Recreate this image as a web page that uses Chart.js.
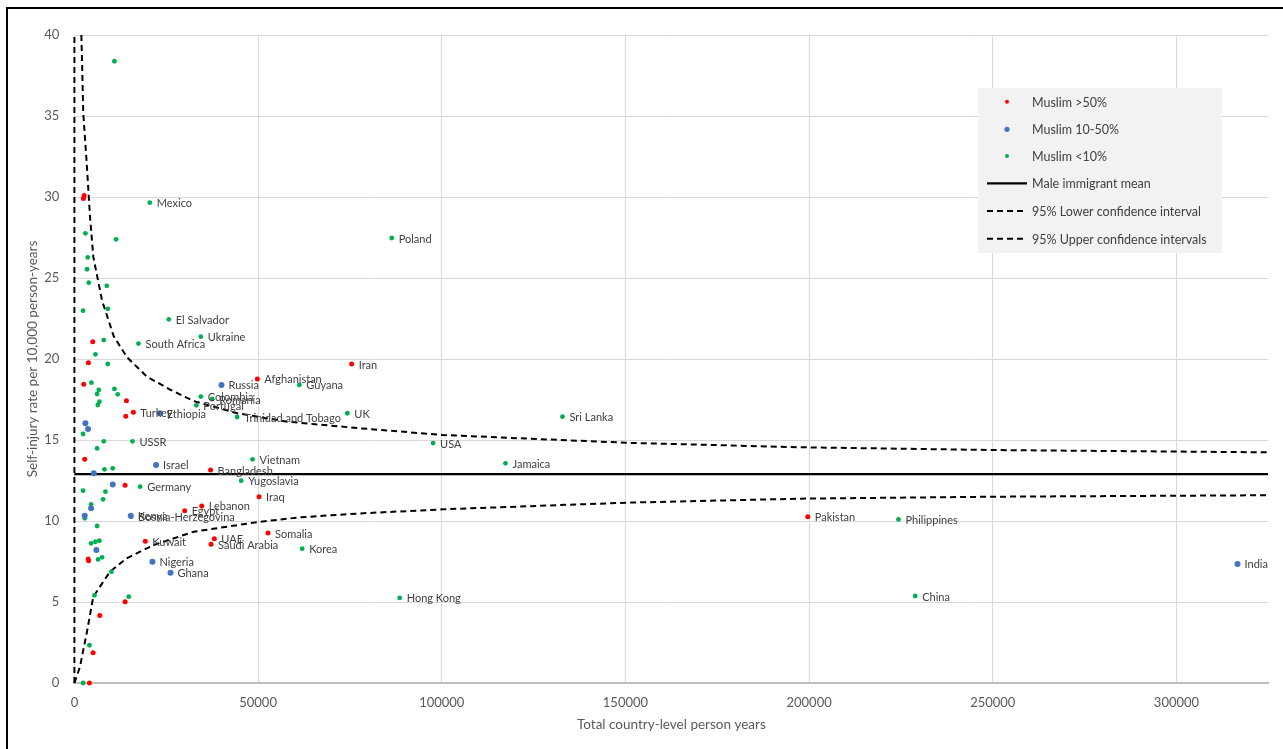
<!DOCTYPE html>
<html>
<head>
<meta charset="utf-8">
<script src="https://cdn.jsdelivr.net/npm/chart.js@4/dist/chart.umd.min.js"></script>
<style>
html,body{margin:0;padding:0;background:#fff;}
canvas{display:block;}
</style>
</head>
<body>
<canvas id="c" width="1283" height="749"></canvas>
<script>
// ---- Muslim >50% (red) ----
const redX = [2450, 2650, 4990, 3810, 2540, 49800, 14170, 16050, 13990, 2810, 37060, 13800, 75480, 50270, 34650, 30020, 19300, 38100, 37200, 3760, 3860, 52700, 199630, 13810, 6900, 5090, 4090];
const redY = [29.9, 30.1, 21.07, 19.77, 18.44, 18.77, 17.43, 16.71, 16.46, 13.81, 13.15, 12.2, 19.69, 11.5, 10.93, 10.64, 8.75, 8.91, 8.56, 7.66, 7.55, 9.26, 10.27, 5.02, 4.16, 1.87, 0];
const redLabels = ['', '', '', '', '', 'Afghanistan', '', 'Turkey', '', '', 'Bangladesh', '', 'Iran', 'Iraq', 'Lebanon', 'Egypt', 'Kuwait', 'UAE', 'Saudi Arabia', '', '', 'Somalia', 'Pakistan', '', '', '', ''];

// ---- Muslim 10-50% (blue) ----
const blueX = [40050, 23230, 3000, 3720, 22240, 5270, 10440, 4540, 2810, 15340, 5990, 21250, 26160, 316620];
const blueY = [18.4, 16.65, 16.03, 15.68, 13.46, 12.94, 12.26, 10.78, 10.33, 10.33, 8.21, 7.49, 6.81, 7.35];
const blueLabels = ['Russia', 'Ethiopia', '', '', 'Israel', '', '', '', '', 'Kenya', '', 'Nigeria', 'Ghana', 'India'];

// ---- Muslim <10% (green) ----
const greenX = [10900, 20520, 3000, 11360, 3630, 3450, 3900, 8810, 9080, 2360, 25700, 34420, 7990, 17440, 5720, 9080, 4630, 6630, 6180, 10900, 11800, 6810, 6360, 34420, 37500, 33200, 44300, 61230, 74300, 86380, 132870, 97640, 117350, 2360, 7990, 15800, 6180, 8170, 10440, 48500, 45400, 17900, 2360, 8450, 7810, 4540, 2810, 15440, 6180, 4540, 5720, 6810, 6450, 7540, 10080, 5450, 14800, 4090, 2360, 62000, 224330, 228880, 88560];
const greenY = [38.38, 29.65, 27.76, 27.39, 26.27, 25.54, 24.71, 24.52, 23.1, 22.98, 22.45, 21.38, 21.17, 20.95, 20.29, 19.69, 18.54, 18.09, 17.84, 18.15, 17.82, 17.36, 17.16, 17.68, 17.53, 17.14, 16.42, 18.4, 16.65, 27.47, 16.44, 14.81, 13.56, 15.37, 14.92, 14.92, 14.48, 13.19, 13.25, 13.81, 12.49, 12.12, 11.87, 11.81, 11.34, 11.03, 10.17, 10.27, 9.69, 8.62, 8.72, 8.78, 7.63, 7.76, 6.87, 5.41, 5.33, 2.33, 0, 8.29, 10.1, 5.37, 5.25];
const greenLabels = ['', 'Mexico', '', '', '', '', '', '', '', '', 'El Salvador', 'Ukraine', '', 'South Africa', '', '', '', '', '', '', '', '', '', 'Colombia', 'Romania', 'Portugal', 'Trinidad and Tobago', 'Guyana', 'UK', 'Poland', 'Sri Lanka', 'USA', 'Jamaica', '', '', 'USSR', '', '', '', 'Vietnam', 'Yugoslavia', 'Germany', '', '', '', '', '', 'Bosnia-Herzegovina', '', '', '', '', '', '', '', '', '', '', '', 'Korea', 'Philippines', 'China', 'Hong Kong'];

// ---- Male immigrant mean ----
const meanX = [0, 325000];
const meanY = [12.9, 12.9];

// ---- 95% Lower confidence interval ----
const lowerX = [0, 1520, 2420, 3350, 5150, 9690, 14240, 21610, 32500, 50680, 61580, 77930, 100200, 150140, 197800, 250200, 325000];
const lowerY = [0, 1.0, 2.04, 3.07, 5.33, 6.87, 7.7, 8.52, 9.34, 9.96, 10.23, 10.47, 10.72, 11.13, 11.38, 11.5, 11.59];

// ---- 95% Upper confidence intervals ----
const upperX = [1900, 2420, 3350, 4250, 5150, 7540, 10710, 14350, 19800, 26160, 32500, 44330, 57950, 77930, 100200, 150140, 197800, 250200, 325000];
const upperY = [40, 35.17, 32.08, 28.78, 26.3, 23.6, 21.4, 20.1, 18.9, 18.1, 17.4, 16.65, 16.13, 15.72, 15.31, 14.83, 14.55, 14.38, 14.24];
// start of the upper interval series (vertical part at x = 0)
const upperStartX = [0, 0];
const upperStartY = [0, 40];

// ---- axis ticks ----
const xTicks = [0, 50000, 100000, 150000, 200000, 250000, 300000];
const yTicks = [0, 5, 10, 15, 20, 25, 30, 35, 40];

const toPts = (xs, ys) => xs.map((x, i) => ({x: x, y: ys[i]}));

const FONT = 'Lato';

const framePlugin = {
  id: 'frame',
  beforeDraw(chart) {
    const ctx = chart.ctx;
    ctx.save();
    ctx.fillStyle = '#ffffff';
    ctx.fillRect(0, 0, chart.width, chart.height);
    ctx.restore();
  },
  afterDraw(chart) {
    const ctx = chart.ctx;
    ctx.save();
    ctx.setLineDash([]);
    ctx.strokeStyle = '#000000';
    ctx.lineWidth = 2;
    ctx.beginPath();
    ctx.moveTo(7, 760);
    ctx.lineTo(7, 8);
    ctx.lineTo(1290, 8);
    ctx.stroke();
    ctx.restore();
  }
};

const labelPlugin = {
  id: 'pointLabels',
  afterDatasetsDraw(chart) {
    const ctx = chart.ctx;
    ctx.save();
    ctx.font = '11px ' + FONT;
    ctx.fillStyle = '#404040';
    ctx.textBaseline = 'middle';
    ctx.textAlign = 'left';
    chart.data.datasets.forEach((ds, i) => {
      if (!ds.pointLabels) return;
      const meta = chart.getDatasetMeta(i);
      meta.data.forEach((el, j) => {
        const t = ds.pointLabels[j];
        if (t) ctx.fillText(t, el.x + 7, el.y + 1);
      });
    });
    ctx.restore();
  }
};

const legendPlugin = {
  id: 'boxLegend',
  afterDraw(chart) {
    const ctx = chart.ctx;
    ctx.save();
    ctx.fillStyle = '#f2f2f2';
    ctx.fillRect(978, 88, 244, 165);
    const rows = [101.7, 129.3, 156, 183.3, 211, 238.7];
    const dsets = chart.data.datasets.filter(ds => !ds.legendSkip);
    ctx.font = '12.5px ' + FONT;
    ctx.textBaseline = 'middle';
    ctx.textAlign = 'left';
    dsets.forEach((ds, i) => {
      const y = rows[i];
      if (ds.showLine) {
        ctx.save();
        ctx.strokeStyle = ds.borderColor;
        ctx.lineWidth = ds.borderWidth;
        ctx.setLineDash(ds.borderDash ? ds.borderDash.slice() : []);
        ctx.beginPath();
        ctx.moveTo(987, y);
        ctx.lineTo(1027, y);
        ctx.stroke();
        ctx.restore();
      } else {
        ctx.save();
        ctx.fillStyle = ds.backgroundColor;
        ctx.beginPath();
        ctx.arc(1007, y, ds.legendRadius, 0, Math.PI * 2);
        ctx.fill();
        ctx.restore();
      }
      ctx.fillStyle = '#404040';
      ctx.fillText(ds.label, 1032, y + 1);
    });
    ctx.restore();
  }
};

const lineClip = {left: 5, top: 0, right: 0, bottom: 3};

new Chart(document.getElementById('c'), {
  type: 'scatter',
  data: {
    datasets: [
      {label: 'Muslim >50%', data: toPts(redX, redY), pointLabels: redLabels,
       backgroundColor: '#ff0000', borderColor: '#ff0000', pointRadius: 2.5, pointBorderWidth: 0, legendRadius: 2, clip: 4},
      {label: 'Muslim 10-50%', data: toPts(blueX, blueY), pointLabels: blueLabels,
       backgroundColor: '#4472c4', borderColor: '#4472c4', pointRadius: 3, pointBorderWidth: 0, legendRadius: 2.6, clip: 4},
      {label: 'Muslim <10%', data: toPts(greenX, greenY), pointLabels: greenLabels,
       backgroundColor: '#00b050', borderColor: '#00b050', pointRadius: 2.4, pointBorderWidth: 0, legendRadius: 2, clip: 4},
      {label: 'Male immigrant mean', data: toPts(meanX, meanY), showLine: true, clip: lineClip,
       borderColor: '#000000', borderWidth: 2.25, pointRadius: 0},
      {label: '95% Lower confidence interval', data: toPts(lowerX, lowerY), showLine: true, clip: lineClip,
       borderColor: '#000000', borderWidth: 2, borderDash: [6, 4], pointRadius: 0},
      {label: '95% Upper confidence intervals', data: toPts(upperX, upperY), showLine: true, clip: lineClip,
       borderColor: '#000000', borderWidth: 2, borderDash: [6, 4], pointRadius: 0},
      {label: '95% Upper confidence intervals (start)', data: toPts(upperStartX, upperStartY), showLine: true, clip: lineClip,
       borderColor: '#000000', borderWidth: 2, borderDash: [6, 4], pointRadius: 0, legendSkip: true}
    ]
  },
  options: {
    responsive: false,
    animation: false,
    devicePixelRatio: 1,
    layout: {padding: {left: 21, right: 14.7, top: 35, bottom: 12}},
    plugins: {legend: {display: false}, tooltip: {enabled: false}},
    scales: {
      x: {
        type: 'linear', min: 0, max: 325000,
        afterBuildTicks: s => { s.ticks = xTicks.map(v => ({value: v})); },
        afterFit: s => { s.height = 54; },
        grid: {color: '#d9d9d9', lineWidth: 1, drawTicks: false},
        border: {display: true, color: '#bfbfbf', width: 2},
        ticks: {color: '#595959', font: {family: FONT, size: 13}, padding: 12, maxRotation: 0,
                callback: v => String(v)},
        title: {display: true, text: 'Total country-level person years', color: '#595959',
                font: {family: FONT, size: 13.5}, padding: {top: 4, bottom: 4}}
      },
      y: {
        type: 'linear', min: 0, max: 40,
        afterBuildTicks: s => { s.ticks = yTicks.map(v => ({value: v})); },
        afterFit: s => { s.width = 53.4; },
        grid: {color: '#d9d9d9', lineWidth: 1, drawTicks: false},
        border: {display: false},
        ticks: {color: '#595959', font: {family: FONT, size: 13}, padding: 15,
                callback: v => String(v)},
        title: {display: true, text: 'Self-injury rate per 10,000 person-years', color: '#595959',
                font: {family: FONT, size: 13.5}, padding: {top: 4, bottom: 4}}
      }
    }
  },
  plugins: [framePlugin, labelPlugin, legendPlugin]
});
</script>
</body>
</html>
